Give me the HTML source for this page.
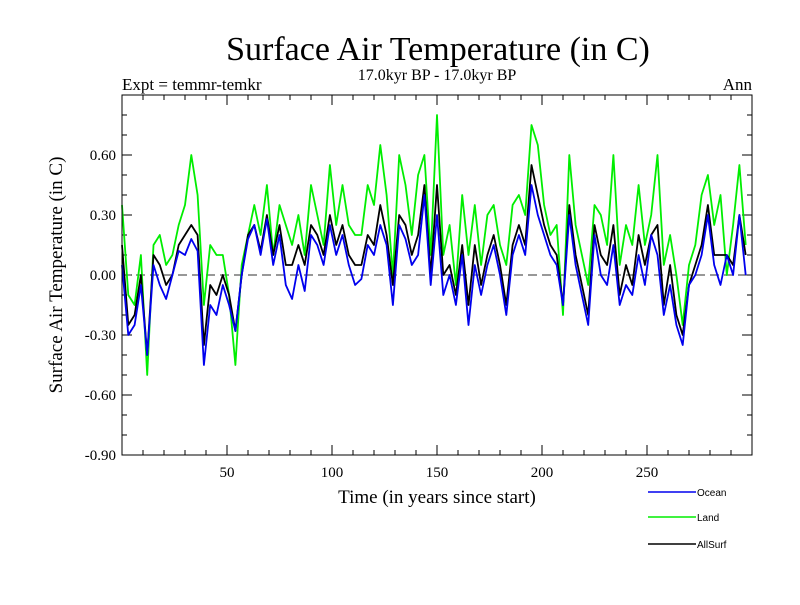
<!DOCTYPE html>
<html><head><meta charset="utf-8"><style>
body{margin:0;background:#fff;}
svg text{font-family:"Liberation Serif",serif;fill:#000;}
</style></head><body>
<svg id="chart" width="800" height="600" xmlns="http://www.w3.org/2000/svg">
<text x="438" y="60" font-size="34" text-anchor="middle">Surface Air Temperature (in C)</text>
<text x="437" y="80" font-size="16" text-anchor="middle">17.0kyr BP - 17.0kyr BP</text>
<text x="122" y="90" font-size="17">Expt = temmr-temkr</text>
<text x="752" y="90" font-size="17" text-anchor="end">Ann</text>
<text transform="translate(62,275) rotate(-90)" font-size="19" text-anchor="middle">Surface Air Temperature (in C)</text>
<text x="437" y="503" font-size="19" text-anchor="middle">Time (in years since start)</text>
<g id="axes"></g>
<g id="series"></g>
<rect x="122" y="95" width="630" height="360" fill="none" stroke="#000" stroke-width="1"/>
<g id="legend"></g>
</svg>
<script>
const years = Array.from({length:100},(_,i)=>i*3);
const ocean = [0.05,-0.30,-0.25,-0.05,-0.40,0.05,-0.05,-0.12,0.00,0.12,
0.10,0.18,0.12,-0.45,-0.15,-0.20,-0.05,-0.15,-0.28,0.00,
0.18,0.25,0.10,0.28,0.05,0.20,-0.05,-0.12,0.05,-0.08,
0.20,0.15,0.05,0.25,0.10,0.20,0.05,-0.05,-0.02,0.15,
0.10,0.25,0.15,-0.15,0.25,0.18,0.05,0.10,0.40,-0.05,
0.30,-0.10,0.00,-0.15,0.10,-0.25,0.05,-0.10,0.05,0.15,
0.00,-0.20,0.10,0.20,0.10,0.45,0.30,0.20,0.10,0.05,
-0.15,0.30,0.05,-0.10,-0.25,0.20,0.00,-0.05,0.15,-0.15,
-0.05,-0.10,0.10,-0.05,0.20,0.10,-0.20,-0.05,-0.25,-0.35,
-0.05,0.00,0.10,0.30,0.05,-0.05,0.10,0.00,0.30,0.00];
const land = [0.35,-0.10,-0.15,0.10,-0.50,0.15,0.20,0.05,0.10,0.25,
0.35,0.60,0.40,-0.15,0.15,0.10,0.10,-0.10,-0.45,0.05,
0.20,0.35,0.20,0.45,0.10,0.35,0.25,0.15,0.30,0.10,
0.45,0.30,0.15,0.55,0.25,0.45,0.25,0.20,0.20,0.45,
0.35,0.65,0.40,0.00,0.60,0.45,0.20,0.50,0.60,0.10,
0.80,0.10,0.25,-0.05,0.40,0.10,0.35,0.05,0.30,0.35,
0.15,0.05,0.35,0.40,0.30,0.75,0.65,0.35,0.20,0.25,
-0.20,0.60,0.25,0.10,-0.05,0.35,0.30,0.15,0.60,0.05,
0.25,0.15,0.45,0.15,0.30,0.60,0.05,0.20,0.00,-0.25,
0.05,0.15,0.40,0.50,0.25,0.40,0.00,0.25,0.55,0.15];
const allSurf = [0.15,-0.25,-0.20,0.00,-0.40,0.10,0.05,-0.05,0.00,0.15,
0.20,0.25,0.20,-0.35,-0.05,-0.10,0.00,-0.10,-0.28,0.00,
0.20,0.25,0.12,0.30,0.10,0.25,0.05,0.05,0.15,0.05,
0.25,0.20,0.10,0.30,0.15,0.25,0.10,0.05,0.05,0.20,
0.15,0.35,0.20,-0.05,0.30,0.25,0.10,0.20,0.45,0.00,
0.45,0.00,0.05,-0.10,0.15,-0.15,0.15,-0.05,0.10,0.20,
0.05,-0.15,0.15,0.25,0.15,0.55,0.40,0.25,0.15,0.10,
-0.15,0.35,0.10,-0.05,-0.20,0.25,0.10,0.05,0.25,-0.10,
0.05,-0.05,0.20,0.05,0.20,0.25,-0.15,0.05,-0.20,-0.30,
-0.05,0.05,0.15,0.35,0.10,0.10,0.10,0.05,0.30,0.10];
const yTickLabels = ["-0.90","-0.60","-0.30","0.00","0.30","0.60"];
const yTickValues = [-0.9,-0.6,-0.3,0,0.3,0.6];
const xTickValues = [50,100,150,200,250];
const seriesNames = ["Ocean","Land","AllSurf"];

const NS="http://www.w3.org/2000/svg";
const X0=122,X1=752,Y0=95,Y1=455,XMIN=0,XMAX=300,YMIN=-0.9,YMAX=0.9;
const xs=v=>X0+(v-XMIN)/(XMAX-XMIN)*(X1-X0);
const ys=v=>Y1-(v-YMIN)/(YMAX-YMIN)*(Y1-Y0);
function mk(tag,attrs,parent){const e=document.createElementNS(NS,tag);for(const k in attrs)e.setAttribute(k,attrs[k]);parent.appendChild(e);return e;}
const axes=document.getElementById('axes');
for(let v=-9;v<=9;v++){
  const y=ys(v/10), len=(v%3===0)?10:5;
  const t1=mk('line',{x1:X0,x2:X0+len,y1:y,y2:y,stroke:'#000'},axes);
  
  
  const t2=mk('line',{x1:X1,x2:X1-len,y1:y,y2:y,stroke:'#000'},axes);
  
  
}
yTickValues.forEach((v,i)=>{
  const t=mk('text',{x:X0-6,y:ys(v)+5,'font-size':15,'text-anchor':'end'},axes);
  t.textContent=yTickLabels[i];
  
  
});
for(let v=10;v<300;v+=10){
  const x=xs(v), len=(v%50===0)?10:5;
  const b=mk('line',{x1:x,x2:x,y1:Y1,y2:Y1-len,stroke:'#000'},axes);
  
  
  const tp=mk('line',{x1:x,x2:x,y1:Y0,y2:Y0+len,stroke:'#000'},axes);
  
  
}
xTickValues.forEach(v=>{
  const t=mk('text',{x:xs(v),y:Y1+22,'font-size':15,'text-anchor':'middle'},axes);
  t.textContent=String(v);
  
  
});
const zl=mk('line',{x1:X0,x2:X1,y1:ys(0),y2:ys(0),stroke:'#777','stroke-dasharray':'9,5','stroke-width':1.5},axes);



const sg=document.getElementById('series');
function drawSeries(vals,color,name){
  const d=vals.map((v,i)=>(i?'L':'M')+xs(years[i]).toFixed(1)+','+ys(v).toFixed(1)).join(' ');
  const p=mk('path',{d:d,fill:'none',stroke:color,'stroke-width':1.8,'stroke-linejoin':'round'},sg);
  
  
}
drawSeries(land,'#00ee00','land-line');
drawSeries(allSurf,'#000000','allsurf-line');
drawSeries(ocean,'#0000ee','ocean-line');

const lg=document.getElementById('legend');
const lcolors=['#0000ee','#00ee00','#000000'];
const lys=[492,517,544];
seriesNames.forEach((n,i)=>{
  const l=mk('line',{x1:648,x2:696,y1:lys[i],y2:lys[i],stroke:lcolors[i],'stroke-width':1.5},lg);
  
  
  const t=mk('text',{x:697,y:lys[i]+4,'font-size':10,style:'font-family:"Liberation Sans",sans-serif'},lg);
  t.textContent=n;
  
  
});
</script>
</body></html>
